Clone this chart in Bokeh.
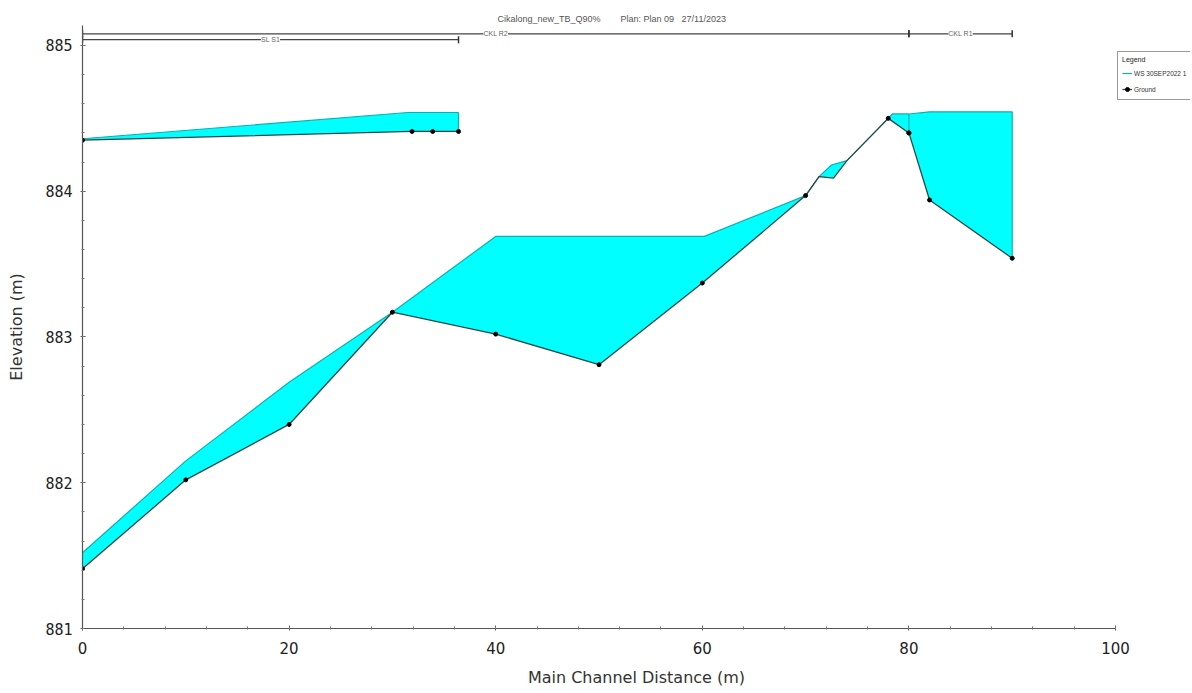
from bokeh.plotting import figure
from bokeh.models import (Range1d, SingleIntervalTicker, Title, Legend, LegendItem)
from bokeh.embed import file_html
from bokeh.resources import INLINE

# ---------------- data ----------------
# Reach "SL S1" (upper side channel)
s1_ground_x = [0, 31.9, 33.9, 36.4]
s1_ground_y = [884.35, 884.41, 884.41, 884.41]
s1_ground_xs = [1, 1, 1, 1]
s1_ws_x = [0, 31.5, 36.4]
s1_ws_y = [884.36, 884.54, 884.54]

# Reach "CKL R2"
r2_ground_x = [0, 10, 20, 30, 40, 50, 60, 70, 71.3, 72.7, 74.0, 78, 80]
r2_ground_y = [881.41, 882.02, 882.40, 883.17, 883.02, 882.81, 883.37,
               883.97, 884.10, 884.09, 884.21, 884.50, 884.40]
r2_ground_xs = [1, 1, 1, 1, 1, 1, 1, 1, 0, 0, 0, 1, 1]
r2_ws_x = [0, 10, 20, 30, 40, 60.2, 70, 71.3, 72.5, 74.0, 78, 78.4, 80]
r2_ws_y = [881.52, 882.15, 882.69, 883.17, 883.69, 883.69, 883.97,
           884.10, 884.18, 884.21, 884.50, 884.53, 884.53]

# Reach "CKL R1"
r1_ground_x = [80, 82, 90]
r1_ground_y = [884.40, 883.94, 883.54]
r1_ground_xs = [1, 1, 1]
r1_ws_x = [80, 82, 90]
r1_ws_y = [884.53, 884.545, 884.545]

# reach bars along the top
reach_names = ["SL S1", "CKL R2", "CKL R1"]
reach_start = [0, 0, 80]
reach_end = [36.4, 80, 90]
reach_level = [885.04, 885.08, 885.08]

x_ticks_interval = 20
y_ticks_interval = 1

title_text = ("Cikalong_new_TB_Q90%" + "\u00a0" * 8 + "Plan: Plan 09"
              + "\u00a0" * 3 + "27/11/2023")
legend_labels = ["WS 30SEP2022 1", "Ground"]

# ---------------- figure ----------------
p = figure(width=1190, height=690,
           x_range=Range1d(0, 107.26), y_range=Range1d(881, 885.137),
           output_backend="svg", toolbar_location=None,
           min_border_left=82, min_border_right=0,
           min_border_top=25, min_border_bottom=62)
p.outline_line_color = None
p.xgrid.grid_line_color = None
p.ygrid.grid_line_color = None
p.background_fill_color = "white"
p.border_fill_color = "white"

p.add_layout(Title(text=title_text, align="left", offset=415,
                   text_font_size="9px", text_color="#555555",
                   text_font_style="normal", text_font="Liberation Sans",
                   standoff=3), "above")

WS_FILL = "#00FFFF"
WS_LINE = "#10AFAF"
GR_LINE = "#2F4747"

reaches = [
    (s1_ws_x, s1_ws_y, s1_ground_x, s1_ground_y, s1_ground_xs),
    (r2_ws_x, r2_ws_y, r2_ground_x, r2_ground_y, r2_ground_xs),
    (r1_ws_x, r1_ws_y, r1_ground_x, r1_ground_y, r1_ground_xs),
]

poly_xs = [wx + gx[::-1] for wx, wy, gx, gy, f in reaches]
poly_ys = [wy + gy[::-1] for wx, wy, gx, gy, f in reaches]
p.patches(poly_xs, poly_ys, fill_color=WS_FILL, line_color=None)

ws_renderers = []
gr_renderers = []
dot_renderers = []
for wx, wy, gx, gy, f in reaches:
    ws_renderers.append(p.line(wx, wy, line_color=WS_LINE, line_width=1.2))
    # closing vertical edge at the downstream end of the water
    p.line([wx[-1], gx[-1]], [wy[-1], gy[-1]], line_color=WS_LINE, line_width=1.2)
for wx, wy, gx, gy, f in reaches:
    gr_renderers.append(p.line(gx, gy, line_color=GR_LINE, line_width=1.3))
    dx = [x for x, k in zip(gx, f) if k]
    dy = [y for y, k in zip(gy, f) if k]
    dot_renderers.append(p.scatter(dx, dy, size=4, color="black"))

# reach bars
p.segment(x0=reach_start, y0=reach_level, x1=reach_end, y1=reach_level,
          line_color="#444444", line_width=1.2)
p.scatter(x=reach_start + reach_end, y=reach_level + reach_level,
          marker="dash", angle=1.5708, size=7, line_color="#333333", line_width=1.5)
reach_mid = [(a + b) / 2 for a, b in zip(reach_start, reach_end)]
p.text(x=reach_mid, y=reach_level, text=reach_names, text_align="center",
       text_baseline="middle", text_font_size="7px", text_color="#666666",
       background_fill_color="white")

# axes
p.xaxis.ticker = SingleIntervalTicker(interval=x_ticks_interval, num_minor_ticks=5)
p.yaxis.ticker = SingleIntervalTicker(interval=y_ticks_interval, num_minor_ticks=5)
p.xaxis.bounds = (0, 100)
for ax in (p.xaxis, p.yaxis):
    ax.axis_line_color = "#555555"
    ax.axis_line_width = 1.2
    ax.major_tick_line_color = "#555555"
    ax.minor_tick_line_color = "#777777"
    ax.major_tick_in = 3
    ax.major_tick_out = 2
    ax.minor_tick_in = 2
    ax.minor_tick_out = 1
    ax.major_label_text_color = "#222222"
    ax.major_label_text_font_size = "15px"
    ax.axis_label_text_font = "DejaVu Sans"
    ax.axis_label_text_font_style = "normal"
    ax.axis_label_text_font_size = "16px"
    ax.axis_label_text_color = "#333333"

p.xaxis.axis_label = "Main Channel Distance (m)"
p.yaxis.axis_label = "Elevation (m)"
p.xaxis.major_label_text_font = "DejaVu Sans"
p.yaxis.major_label_text_font = "DejaVu Sans Mono"
p.xaxis.major_label_standoff = 11
p.xaxis.axis_label_standoff = 11
p.yaxis.major_label_standoff = 8
p.yaxis.axis_label_standoff = 16

legend = Legend(items=[LegendItem(label=legend_labels[0], renderers=[ws_renderers[1]]),
                       LegendItem(label=legend_labels[1],
                                  renderers=[gr_renderers[1], dot_renderers[1]])],
                location=(1035, 528), title="Legend",
                title_text_font_size="7px", title_text_font_style="normal",
                title_text_color="#222222", title_standoff=4,
                label_text_font_size="6.5px", label_text_color="#333333",
                glyph_height=12, glyph_width=10, label_height=12, label_standoff=2,
                spacing=4, padding=4, margin=0,
                border_line_color="#333333", border_line_width=1,
                background_fill_color="white", background_fill_alpha=1)
p.add_layout(legend)

open("out.html", "w").write(file_html(p, INLINE))
